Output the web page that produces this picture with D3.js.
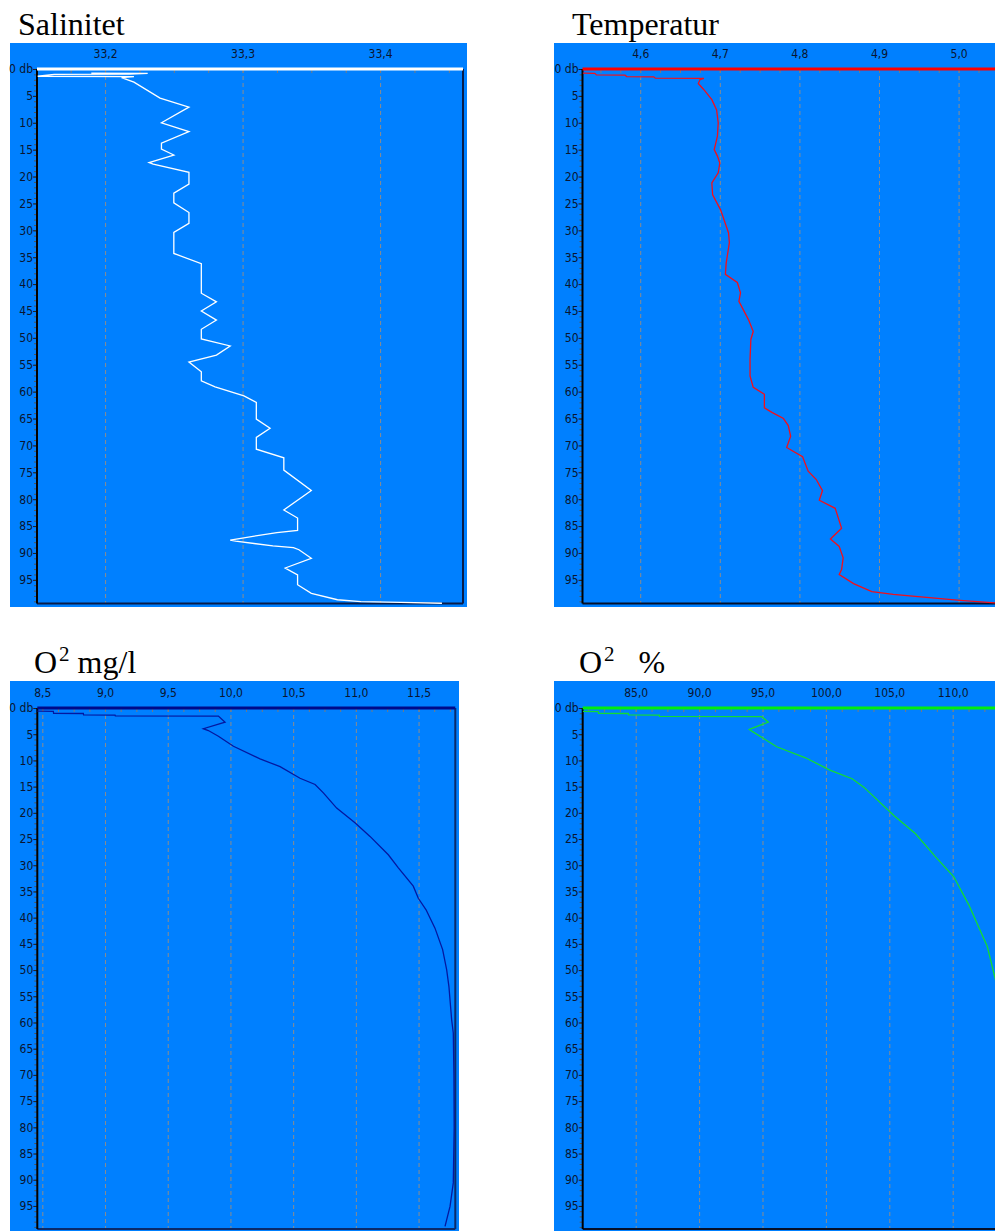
<!DOCTYPE html>
<html>
<head>
<meta charset="utf-8">
<script src="https://cdn.jsdelivr.net/npm/d3@7"></script>
<style>
  body { margin: 0; background: #fff; }
  .lab { font-family: 'DejaVu Sans', sans-serif; font-stretch: condensed; font-size: 12px; fill: #0a1530; }
  .title { font-family: 'Liberation Serif', 'Times New Roman', serif; font-size: 32px; fill: #000; }
</style>
</head>
<body>
<svg id="profiles" width="995" height="1231"></svg>
<script>
// salinity profile: depth (db) and value
var salDepth = [0.75, 0.8, 0.95, 1.0, 1.35, 1.4, 1.6, 2.45, 5.4, 7.1, 10.0, 11.65, 13.8, 14.9, 16.0, 17.4, 17.7, 19.2, 21.4, 23.1, 24.9, 26.7, 28.7, 30.4, 34.3, 36.2, 41.7, 43.3, 45.0, 46.7, 48.4, 50.2, 51.5, 53.2, 54.5, 56.3, 58.0, 59.1, 60.8, 62.0, 65.1, 66.8, 68.5, 70.7, 72.3, 74.6, 78.4, 82.0, 83.5, 85.8, 86.2, 87.6, 87.8, 88.7, 89.0, 89.4, 91.0, 92.8, 94.1, 95.9, 97.5, 98.7, 99.05, 99.2, 99.35];
var salValue = [33.190, 33.231, 33.218, 33.163, 33.151, 33.221, 33.212, 33.221, 33.240, 33.261, 33.241, 33.261, 33.241, 33.241, 33.250, 33.232, 33.235, 33.261, 33.261, 33.250, 33.250, 33.261, 33.261, 33.250, 33.250, 33.270, 33.270, 33.281, 33.270, 33.281, 33.270, 33.270, 33.291, 33.281, 33.261, 33.270, 33.270, 33.280, 33.301, 33.310, 33.310, 33.320, 33.310, 33.310, 33.330, 33.330, 33.350, 33.330, 33.340, 33.340, 33.325, 33.291, 33.295, 33.322, 33.337, 33.341, 33.350, 33.331, 33.340, 33.340, 33.350, 33.369, 33.386, 33.415, 33.445];

// temperature profile
var tempDepth = [0.75, 0.8, 1.1, 1.15, 1.4, 1.45, 1.7, 1.75, 2.0, 2.7, 3.85, 5.7, 7.6, 10.0, 12.5, 15.0, 16.2, 17.5, 19.3, 21.2, 23.4, 26.2, 30.5, 32.3, 36.1, 38.2, 39.7, 41.6, 43.2, 46.6, 48.8, 50.3, 54.0, 57.1, 59.2, 60.5, 63.0, 63.9, 65.0, 66.3, 68.3, 70.4, 72.1, 74.8, 76.3, 78.4, 80.2, 81.7, 85.4, 87.4, 88.8, 90.9, 93.1, 94.0, 95.7, 97.2, 97.7, 98.2, 98.8, 99.3];
var tempValue = [4.528, 4.543, 4.545, 4.581, 4.583, 4.617, 4.619, 4.680, 4.675, 4.673, 4.680, 4.690, 4.696, 4.698, 4.697, 4.693, 4.697, 4.700, 4.698, 4.690, 4.691, 4.701, 4.711, 4.712, 4.708, 4.707, 4.722, 4.726, 4.724, 4.736, 4.742, 4.739, 4.738, 4.738, 4.742, 4.756, 4.756, 4.766, 4.780, 4.786, 4.789, 4.784, 4.804, 4.811, 4.821, 4.829, 4.825, 4.845, 4.853, 4.839, 4.850, 4.855, 4.853, 4.850, 4.868, 4.891, 4.918, 4.956, 5.002, 5.046];

// oxygen mg/l profile
var oxMgDepth = [0.6, 0.65, 1.0, 1.05, 1.3, 1.35, 1.5, 1.55, 2.7, 3.95, 4.3, 5.4, 7.3, 9.7, 11.2, 13.4, 14.6, 16.2, 19.1, 21.9, 24.5, 28.0, 30.5, 34.0, 36.3, 38.5, 42.0, 46.1, 49.9, 53.1, 59.5, 62.0, 70.0, 80.0, 90.6, 95.1, 98.9];
var oxMgValue = [8.46, 8.588, 8.590, 8.827, 8.829, 9.080, 9.082, 9.904, 9.957, 9.784, 9.824, 9.904, 10.024, 10.236, 10.396, 10.555, 10.675, 10.741, 10.847, 10.993, 11.113, 11.259, 11.339, 11.458, 11.498, 11.560, 11.631, 11.692, 11.724, 11.742, 11.764, 11.777, 11.782, 11.784, 11.777, 11.751, 11.711];

// oxygen saturation profile
var oxPctDepth = [0.65, 0.7, 1.0, 1.05, 1.3, 1.35, 1.6, 1.65, 2.7, 4.1, 4.6, 7.4, 9.5, 11.9, 13.5, 15.1, 20.5, 24.0, 28.4, 32.2, 37.6, 45.5, 51.9, 58.2, 61.4, 65.0, 75.0, 85.0, 95.0, 99.0];
var oxPctValue = [80.84, 82.05, 82.07, 84.42, 84.44, 86.86, 86.88, 94.94, 95.46, 93.96, 94.28, 96.12, 98.39, 100.36, 102.07, 102.99, 105.36, 107.07, 108.65, 110.09, 111.28, 112.73, 113.38, 113.52, 113.78, 113.9, 114.0, 114.0, 113.9, 113.7];

// tick labels
var depthTicks = [0, 5, 10, 15, 20, 25, 30, 35, 40, 45, 50, 55, 60, 65, 70, 75, 80, 85, 90, 95];
var salTicks = [33.2, 33.3, 33.4];
var tempTicks = [4.6, 4.7, 4.8, 4.9, 5.0];
var oxMgTicks = [8.5, 9.0, 9.5, 10.0, 10.5, 11.0, 11.5];
var oxPctTicks = [85, 90, 95, 100, 105, 110];

var maxDepth = 99.4;
var bgBlue = "#0080ff";

var svg = d3.select("#profiles");

var panels = [
  {title: "Salinitet", titleX: 18, titleY: 35, bg: [10, 43, 457, 564],
   left: 37, top: 69, width: 426, height: 534.5, domain: [33.1505, 33.4603],
   ticks: salTicks, minor: 0.025, depth: salDepth, value: salValue,
   topColor: "#ffffff", lineColor: "#ffffff", frame: "#0a1c48", showRight: true},
  {title: "Temperatur", titleX: 572, titleY: 35, bg: [554, 43, 460, 564],
   left: 582.5, top: 69, width: 426, height: 534.5, domain: [4.5275, 5.0627],
   ticks: tempTicks, minor: 0.025, depth: tempDepth, value: tempValue,
   topColor: "#ff0000", lineColor: "#f0101c", frame: "#05102a", showRight: false},
  {title: "mg/l", titleX: 34, titleY: 673, bg: [10, 681, 449, 550],
   left: 37.3, top: 708, width: 418, height: 521, domain: [8.46, 11.793],
   ticks: oxMgTicks, minor: 0.125, depth: oxMgDepth, value: oxMgValue,
   topColor: "#000a8a", lineColor: "#0418a0", frame: "#0a2a6a", showRight: true, ox: true},
  {title: "%", titleX: 579, titleY: 673, bg: [554, 681, 460, 550],
   left: 582.7, top: 708, width: 424, height: 521, domain: [80.82, 114.26],
   ticks: oxPctTicks, minor: 1.25, depth: oxPctDepth, value: oxPctValue,
   topColor: "#00ee10", lineColor: "#14dc30", frame: "#05102a", showRight: false, ox: true, pct: true}
];

function commaFmt(d){
  return d3.format(".1f")(d).replace(".", ",");
}

function drawPanel(p){
  var g = svg.append("g");

  g.append("rect")
    .attr("x", p.bg[0]).attr("y", p.bg[1])
    .attr("width", p.bg[2]).attr("height", p.bg[3])
    .attr("fill", bgBlue);

  var x = d3.scaleLinear().domain(p.domain).range([p.left, p.left + p.width]);
  var y = d3.scaleLinear().domain([0, maxDepth]).range([p.top, p.top + p.height]);

  // dashed vertical grid at the labelled values
  var grid = g.append("g")
    .attr("transform", "translate(0," + p.top + ")")
    .call(d3.axisTop(x).tickValues(p.ticks).tickSize(-p.height).tickFormat(""));
  grid.select(".domain").remove();
  grid.selectAll("line").attr("stroke", "#8c8c8c").attr("stroke-width", 1).attr("stroke-dasharray", "4,3");

  // small ticks along the top
  var first = p.ticks[0] - Math.floor((p.ticks[0] - p.domain[0]) / p.minor) * p.minor;
  var minorTop = d3.range(first, p.domain[1], p.minor);
  var topMinor = g.append("g")
    .attr("transform", "translate(0," + p.top + ")")
    .call(d3.axisTop(x).tickValues(minorTop).tickSize(-4).tickFormat(""));
  topMinor.select(".domain").remove();
  topMinor.selectAll("line").attr("stroke", "#7a7a7a");

  // value labels on top
  var topLab = g.append("g")
    .attr("transform", "translate(0," + p.top + ")")
    .call(d3.axisTop(x).tickValues(p.ticks).tickSize(0).tickPadding(11).tickFormat(commaFmt));
  topLab.select(".domain").remove();
  topLab.selectAll("text").attr("class", "lab").attr("fill", null).attr("font-family", null).attr("font-size", null);
  topLab.attr("font-family", null).attr("font-size", null);

  // depth axis: small ticks every db
  var leftMinor = g.append("g")
    .attr("transform", "translate(" + p.left + ",0)")
    .call(d3.axisLeft(y).tickValues(d3.range(0, maxDepth, 1)).tickSize(3).tickFormat(""));
  leftMinor.select(".domain").remove();
  leftMinor.selectAll("line").attr("stroke", "#555");

  var leftLab = g.append("g")
    .attr("transform", "translate(" + p.left + ",0)")
    .call(d3.axisLeft(y).tickValues(depthTicks).tickSize(4).tickPadding(0)
      .tickFormat(function(d){ return d === 0 ? "0 db" : d; }));
  leftLab.select(".domain").remove();
  leftLab.attr("font-family", null).attr("font-size", null);
  leftLab.selectAll("line").attr("stroke", "#222");
  leftLab.selectAll("text").attr("class", "lab").attr("fill", null);

  // frame
  g.append("line")
    .attr("x1", p.left).attr("x2", p.left + p.width)
    .attr("y1", p.top + p.height).attr("y2", p.top + p.height)
    .attr("stroke", p.frame).attr("stroke-width", 2);
  if (p.showRight) {
    g.append("line")
      .attr("x1", p.left + p.width).attr("x2", p.left + p.width)
      .attr("y1", p.top).attr("y2", p.top + p.height)
      .attr("stroke", p.frame).attr("stroke-width", 2);
  }
  g.append("line")
    .attr("x1", p.left).attr("x2", p.left)
    .attr("y1", p.top).attr("y2", p.top + p.height)
    .attr("stroke", "#000").attr("stroke-width", 2);

  // profile line
  var pts = d3.zip(p.depth, p.value);
  var line = d3.line()
    .x(function(d){ return x(d[1]); })
    .y(function(d){ return y(d[0]); });
  g.append("path")
    .datum(pts)
    .attr("d", line)
    .attr("fill", "none")
    .attr("stroke", p.lineColor)
    .attr("stroke-width", 1.3);

  // top line in the series colour
  g.append("line")
    .attr("x1", p.left).attr("x2", p.left + p.width)
    .attr("y1", p.top).attr("y2", p.top)
    .attr("stroke", p.topColor).attr("stroke-width", 3);

  // title
  var t = svg.append("text")
    .attr("class", "title")
    .attr("x", p.titleX)
    .attr("y", p.titleY);
  if (p.ox) {
    t.append("tspan").text("O");
    t.append("tspan").text("2").attr("font-size", "21px").attr("dy", -12).attr("dx", 2);
    if (p.pct) {
      t.append("tspan").text(p.title).attr("dy", 12).attr("dx", 24);
    } else {
      t.append("tspan").text("\u00a0" + p.title).attr("dy", 12);
    }
  } else {
    t.text(p.title);
  }
}

panels.forEach(drawPanel);
</script>
</body>
</html>
